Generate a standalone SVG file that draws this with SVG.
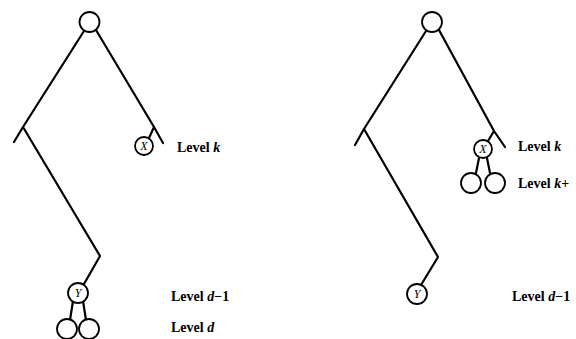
<svg xmlns="http://www.w3.org/2000/svg" width="576" height="339" viewBox="0 0 576 339">
<style>
.edge{stroke:#000;stroke-width:2.2;fill:none;stroke-linecap:round;stroke-linejoin:round}
.node{fill:#fff;stroke:#000;stroke-width:1.8}
.lbl{font-family:"Liberation Serif","Times New Roman",serif;font-size:14px;font-weight:bold;fill:#000}
.nl{font-family:"Liberation Serif","Times New Roman",serif;font-size:12px;font-style:italic;fill:#000;text-anchor:middle}
</style>
<rect width="576" height="339" fill="#fff"/>
<g id="connectors">
<path class="edge" d="M84,31 L23,127 L14,142 M23,127 L100,256 L84,284"/>
<path class="edge" d="M73,301 L70,320 M83,301 L86,320"/>
<path class="edge" d="M96,30 L154,127 L163,143 M154,127 L149,138"/>
<path class="edge" d="M426,31 L364,129 L355,145 M364,129 L438,257 L421,285"/>
<path class="edge" d="M439,30 L494,131 L505,147 M494,131 L488,141"/>
<path class="edge" d="M479,158 L476,173 M487,158 L490,173"/>
</g>
<g id="left-root"><circle class="node" cx="89.5" cy="22" r="10"/></g>
<g id="left-X"><circle class="node" cx="144" cy="146" r="9"/><text class="nl" x="144" y="150">X</text></g>
<g id="left-Y"><circle class="node" cx="78" cy="293" r="10"/><text class="nl" x="78" y="297">Y</text></g>
<g id="left-c1"><circle class="node" cx="67" cy="329" r="10"/></g>
<g id="left-c2"><circle class="node" cx="89" cy="329" r="10"/></g>
<g id="right-root"><circle class="node" cx="432" cy="22" r="10"/></g>
<g id="right-X"><circle class="node" cx="483" cy="149" r="9"/><text class="nl" x="483" y="153">X</text></g>
<g id="right-c1"><circle class="node" cx="471" cy="183" r="10"/></g>
<g id="right-c2"><circle class="node" cx="495" cy="183" r="10"/></g>
<g id="right-Y"><circle class="node" cx="417" cy="294" r="10"/><text class="nl" x="417" y="298">Y</text></g>
<g id="labels">
<text class="lbl" x="177" y="152">Level <tspan font-style="italic">k</tspan></text>
<text class="lbl" x="171" y="301">Level <tspan font-style="italic">d</tspan>−1</text>
<text class="lbl" x="171" y="332">Level <tspan font-style="italic">d</tspan></text>
<text class="lbl" x="518" y="151">Level <tspan font-style="italic">k</tspan></text>
<text class="lbl" x="518" y="188">Level <tspan font-style="italic">k</tspan>+</text>
<text class="lbl" x="512" y="301">Level <tspan font-style="italic">d</tspan>−1</text>
</g>
</svg>
